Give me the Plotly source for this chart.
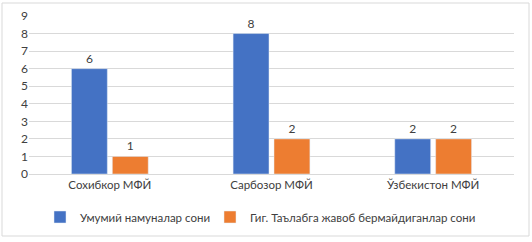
import plotly.graph_objects as go

categories = ["Сохибкор МФЙ", "Сарбозор МФЙ", "Ўзбекистон МФЙ"]
series_names = ["Умумий намуналар сони", "Гиг. Таълабга жавоб бермайдиганлар сони"]
total_samples = [6, 8, 2]
non_compliant = [1, 2, 2]
y_ticks = [0, 1, 2, 3, 4, 5, 6, 7, 8, 9]

font_family = "Lato, 'Open Sans', sans-serif"
text_color = "#404040"

fig = go.Figure()
fig.add_trace(go.Bar(x=categories, y=total_samples, name=series_names[0],
                     marker_color="#4472C4", text=total_samples, textposition="outside",
                     textfont=dict(size=12, color=text_color), cliponaxis=False,
                     legend="legend"))
fig.add_trace(go.Bar(x=categories, y=non_compliant, name=series_names[1],
                     marker_color="#ED7D31", text=non_compliant, textposition="outside",
                     textfont=dict(size=12, color=text_color), cliponaxis=False,
                     legend="legend2"))

L, R, T, B = 29, 18, 16, 68
W, H = 532, 242
pw, ph = W - L - R, H - T - B

def px_x(px):
    return (px - L) / pw

def px_y(py):
    return (H - B - py) / ph

legend_common = dict(orientation="h", xanchor="left", y=px_y(217), yanchor="middle",
                     font=dict(size=11.5, color=text_color), itemwidth=30,
                     bgcolor="rgba(0,0,0,0)")

fig.update_layout(
    width=W, height=H,
    margin=dict(l=L, r=R, t=T, b=B, autoexpand=False),
    paper_bgcolor="white", plot_bgcolor="white",
    barmode="group", bargap=0.494, bargroupgap=0.122,
    font=dict(family=font_family, size=12, color=text_color),
    showlegend=True,
    legend=dict(x=px_x(40), **legend_common),
    legend2=dict(x=px_x(210), **legend_common),
    xaxis=dict(showgrid=False, showline=True, linecolor="#d9d9d9", linewidth=1,
               ticks="", tickfont=dict(size=11.5, color=text_color), automargin=False),
    yaxis=dict(range=[0, 9], tickvals=y_ticks, showgrid=True, gridcolor="#d9d9d9",
               gridwidth=1, zeroline=False, ticks="", showline=False, automargin=False,
               tickfont=dict(size=12, color=text_color)),
    shapes=[dict(type="rect", xref="paper", yref="paper",
                 x0=px_x(2), x1=px_x(529), y0=px_y(236), y1=px_y(3),
                 line=dict(color="#d9d9d9", width=1), fillcolor="rgba(0,0,0,0)", layer="below")],
)

fig.write_html("out.html", config={"displayModeBar": False},
               post_script="document.body.style.margin='0';document.body.style.padding='0';")
